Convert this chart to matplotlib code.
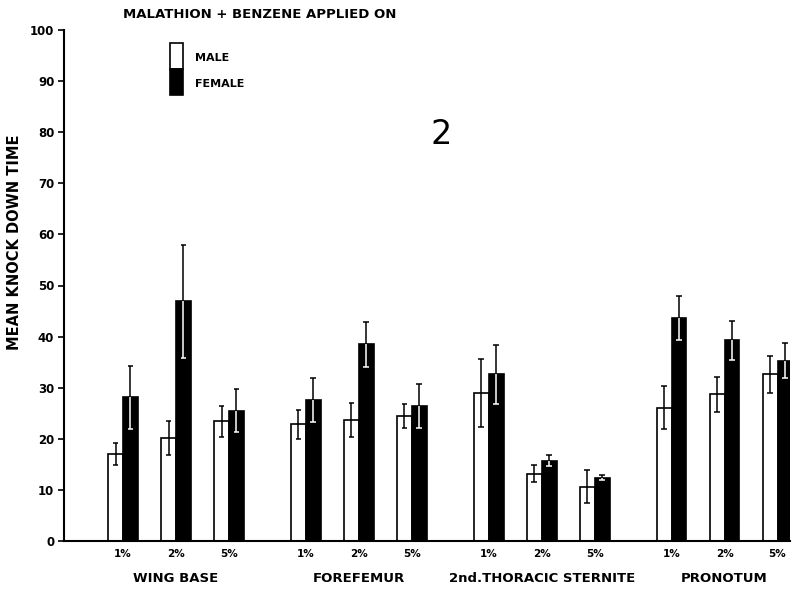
# Knock down time for malathion + benzene applied on different body regions.

import numpy as np
import matplotlib
matplotlib.use('Agg')
import matplotlib.pyplot as plt
from matplotlib.patches import Rectangle
from matplotlib.transforms import blended_transform_factory


groups = ['WING BASE', 'FOREFEMUR', '2nd.THORACIC STERNITE', 'PRONOTUM']
concentrations = ['1%', '2%', '5%']

# mean knock down time, one value per group x concentration
male_mean = [17.0, 20.1, 23.4,
             22.8, 23.7, 24.5,
             29.0, 13.2, 10.6,
             26.1, 28.7, 32.6]
male_err = [2.2, 3.3, 3.0,
            2.8, 3.3, 2.3,
            6.7, 1.7, 3.2,
            4.2, 3.4, 3.7]
female_mean = [28.1, 46.9, 25.5,
               27.6, 38.5, 26.5,
               32.6, 15.7, 12.4,
               43.7, 39.3, 35.3]
female_err = [6.1, 11.0, 4.2,
              4.3, 4.4, 4.3,
              5.8, 1.1, 0.5,
              4.3, 3.8, 3.4]

y_ticks = list(range(0, 101, 10))


plt.rcParams['font.family'] = 'DejaVu Sans'
W, H = 792, 593
fig = plt.figure(figsize=(W / 100, H / 100), dpi=100, facecolor='white')
ax = fig.add_axes([64 / W, 1 - 541 / H, (790 - 64) / W, (541 - 30) / H])

# pair positions: 1 unit between concentrations, wider gap between groups
group_step = 3.45
width = 0.28
centres = np.array([g * group_step + k
                    for g in range(len(groups))
                    for k in range(len(concentrations))])
xm = centres - width / 2
xf = centres + width / 2
male_mean = np.array(male_mean)
male_err = np.array(male_err)
female_mean = np.array(female_mean)
female_err = np.array(female_err)

ax.bar(xm, male_mean, width=width, color='white', edgecolor='black', linewidth=1.2, zorder=2)
ax.bar(xf, female_mean, width=width, color='black', edgecolor='black', linewidth=1.2, zorder=2)

cap = 0.055
# male error bars, black over white bar
ax.vlines(xm, male_mean - male_err, male_mean + male_err, colors='black', lw=1.1, zorder=3)
ax.hlines(male_mean + male_err, xm - cap, xm + cap, colors='black', lw=1.1, zorder=3)
ax.hlines(male_mean - male_err, xm - cap, xm + cap, colors='black', lw=1.1, zorder=3)
# female error bars: black above the bar, white inside it
ax.vlines(xf, female_mean, female_mean + female_err, colors='black', lw=1.1, zorder=3)
ax.hlines(female_mean + female_err, xf - cap, xf + cap, colors='black', lw=1.1, zorder=3)
ax.vlines(xf, female_mean - female_err, female_mean, colors='white', lw=1.1, zorder=3)
ax.hlines(female_mean - female_err, xf - cap, xf + cap, colors='white', lw=1.1, zorder=3)

ax.set_xlim((64 - 123) / 53, (790 - 123) / 53)
ax.set_ylim(0, 100)
ax.set_yticks(y_ticks)
ax.set_yticklabels([str(t) for t in y_ticks], fontsize=8.5, fontweight='bold')
ax.tick_params(axis='y', direction='out', length=4, width=1.2, pad=3)

ax.set_xticks(centres)
ax.set_xticklabels(concentrations * len(groups), fontsize=7.5, fontweight='bold')
ax.tick_params(axis='x', length=0, pad=6)

for side in ['top', 'right']:
    ax.spines[side].set_visible(False)
ax.spines['left'].set_linewidth(1.5)
ax.spines['bottom'].set_linewidth(1.5)

trans = blended_transform_factory(ax.transData, ax.transAxes)
for g, name in enumerate(groups):
    ax.text(g * group_step + 1, -37 / 511, name, transform=trans, ha='center', va='center',
            fontsize=9.5, fontweight='bold')

fig.text(15 / W, 1 - 242 / H, 'MEAN KNOCK DOWN TIME', rotation=90, ha='center', va='center',
         fontsize=10.5, fontweight='bold')
fig.text(123 / W, 1 - 15 / H, 'MALATHION + BENZENE APPLIED ON', ha='left', va='center',
         fontsize=9.5, fontweight='bold')

# hand drawn legend: one box, white top, black bottom
fig.add_artist(Rectangle((170 / W, 1 - 69 / H), 13 / W, 26 / H, transform=fig.transFigure,
                         facecolor='white', edgecolor='black', lw=1.2))
fig.add_artist(Rectangle((170 / W, 1 - 95 / H), 13 / W, 26 / H, transform=fig.transFigure,
                         facecolor='black', edgecolor='black', lw=1.2))
fig.text(195 / W, 1 - 58 / H, 'MALE', ha='left', va='center', fontsize=8, fontweight='bold')
fig.text(195 / W, 1 - 84 / H, 'FEMALE', ha='left', va='center', fontsize=8, fontweight='bold')

fig.text(441 / W, 1 - 135 / H, '2', ha='center', va='center', fontsize=24)

plt.savefig('out.png', dpi=100, facecolor='white')
